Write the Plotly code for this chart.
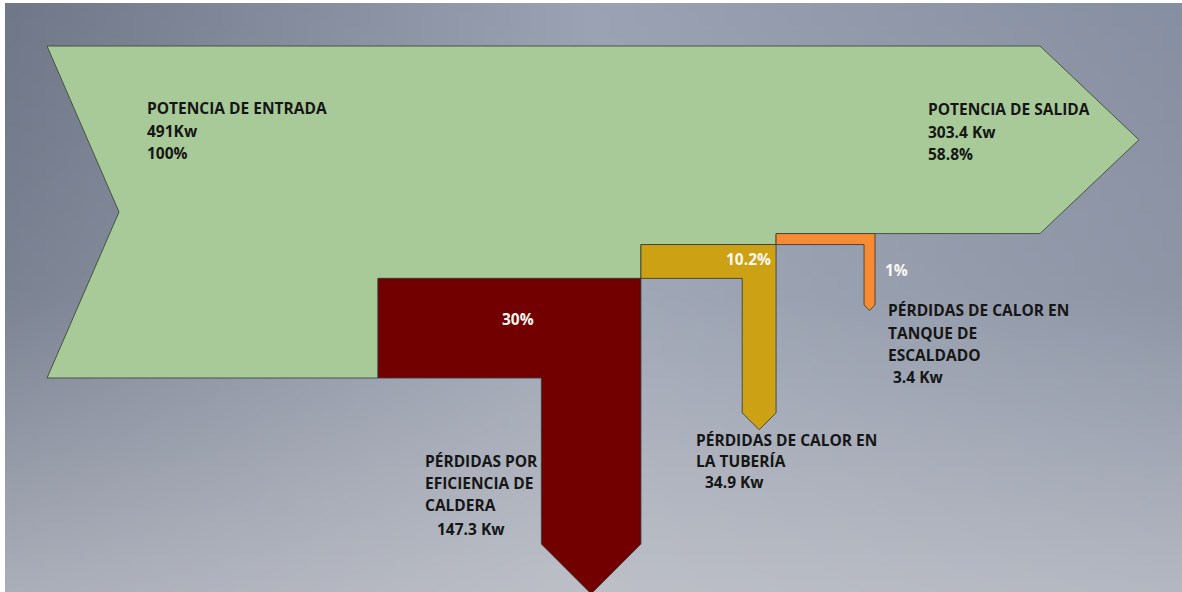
import base64, struct, zlib
import plotly.graph_objects as go

# ---------------- data ----------------
input_label = "POTENCIA DE ENTRADA"
input_kw = 491
input_pct = 100
output_label = "POTENCIA DE SALIDA"
output_kw = 303.4
output_pct = 58.8
loss_names = [
    ["PÉRDIDAS POR", "EFICIENCIA DE", "CALDERA"],
    ["PÉRDIDAS DE CALOR EN", "LA TUBERÍA"],
    ["PÉRDIDAS DE CALOR EN", "TANQUE DE", "ESCALDADO"],
]
loss_kw = [147.3, 34.9, 3.4]
loss_pct = [30, 10.2, 1]

# ---------------- style / layout ----------------
W, H = 1182, 592
S = 3.32            # pixels per percent unit (same on both axes)
X0PX, Y0PX = 47, 378
MIN_W = 3.3         # minimum drawn band width
GREEN = "#a8ca98"
loss_colors = ["#720000", "#cca113", "#f68b33"]
EDGE = "rgba(55,60,55,0.85)"
TXT = "#161616"
FONT = "Open Sans"
FS = 15.5

# schematic positions (data units)
branch_start = [99.7, 178.9, 219.6]
leg_right = [178.9, 219.6, 249.4]
leg_bottom = [-50.0, -10.5, 22.0]
out_end = 299.1
out_tip = 29.8
notch = 21.7


def X(px):
    return (px - X0PX) / S


def Y(py):
    return (Y0PX - py) / S


fig = go.Figure()

# stacked band widths
widths = [max(p, MIN_W) for p in loss_pct]
y0s = []
acc = 0.0
for w in widths:
    y0s.append(acc)
    acc += w
out_bottom = acc
top = input_pct

# main (green) band
gx = [0, out_end, out_end + out_tip, out_end]
gy = [top, top, (top + out_bottom) / 2, out_bottom]
for i in reversed(range(len(widths))):
    gx += [branch_start[i], branch_start[i]]
    gy += [y0s[i] + widths[i], y0s[i]]
gx += [0, notch, 0]
gy += [0, top / 2, top]
fig.add_trace(go.Scatter(x=gx, y=gy, mode="lines", fill="toself", fillcolor=GREEN,
                         line=dict(color="rgba(60,75,55,0.9)", width=1), hoverinfo="skip",
                         showlegend=False))

# loss branches
for i, w in enumerate(widths):
    y0, y1 = y0s[i], y0s[i] + w
    r, b = leg_right[i], leg_bottom[i]
    px_ = [branch_start[i], r, r, r - w / 2, r - w, r - w, branch_start[i], branch_start[i]]
    py_ = [y1, y1, b, b - w / 2, b, y0, y0, y1]
    fig.add_trace(go.Scatter(x=px_, y=py_, mode="lines", fill="toself",
                             fillcolor=loss_colors[i],
                             line=dict(color=EDGE, width=1), hoverinfo="skip",
                             showlegend=False))

# ---------------- text ----------------
def lines(xpx, ypxs, texts, color=TXT, anchor="left", size=FS):
    for yp, t in zip(ypxs, texts):
        fig.add_annotation(x=X(xpx), y=Y(yp), text="<b>%s</b>" % t, showarrow=False,
                           xanchor=anchor, yanchor="middle",
                           font=dict(family=FONT, size=size, color=color))

lines(145, [108, 131, 153], [input_label, f"{input_kw:g}Kw", f"{input_pct:g}%"])
lines(926, [109, 132, 154], [output_label, f"{output_kw:g} Kw", f"{output_pct:g}%"])

pct_pos = [(518, 319), (748, 259), (896, 270)]
for (xp, yp), p in zip(pct_pos, loss_pct):
    lines(xp, [yp], [f"{p:g}%"], color="#fbf8f2", anchor="center")

name_pos = [(423, [461, 483, 505]), (694, [440, 461]), (886, [310, 333, 355])]
kw_pos = [(435, 529), (703, 482), (891, 377)]
for i in range(3):
    xp, ys = name_pos[i]
    lines(xp, ys, loss_names[i])
    lines(kw_pos[i][0], [kw_pos[i][1]], [f"{loss_kw[i]:g} Kw"])

# ---------------- background gradient image ----------------
grid = [
    [(110, 118, 135), (154, 162, 179), (134, 142, 161)],
    [(123, 130, 146), (161, 168, 183), (142, 150, 166)],
    [(170, 174, 185), (189, 192, 199), (180, 184, 194)],
]
IW, IH = 96, 48
rows = []
for j in range(IH):
    v = j / (IH - 1) * 2
    rj = min(int(v), 1)
    fv = v - rj
    row = bytearray()
    for i in range(IW):
        u = i / (IW - 1) * 2
        ci = min(int(u), 1)
        fu = u - ci
        for k in range(3):
            a = grid[rj][ci][k] * (1 - fu) + grid[rj][ci + 1][k] * fu
            bb = grid[rj + 1][ci][k] * (1 - fu) + grid[rj + 1][ci + 1][k] * fu
            row.append(int(round(a * (1 - fv) + bb * fv)))
    rows.append(row)
raw = b"".join(b"\x00" + bytes(r) for r in rows)


def chunk(tag, data):
    c = struct.pack(">I", len(data)) + tag + data
    return c + struct.pack(">I", zlib.crc32(tag + data) & 0xffffffff)


png = b"\x89PNG\r\n\x1a\n" + chunk(b"IHDR", struct.pack(">IIBBBBB", IW, IH, 8, 2, 0, 0, 0)) \
    + chunk(b"IDAT", zlib.compress(raw, 9)) + chunk(b"IEND", b"")
src = "data:image/png;base64," + base64.b64encode(png).decode()

fig.add_layout_image(dict(source=src, xref="paper", yref="paper", x=-0.01, y=1.01,
                          sizex=1.02, sizey=1.02, xanchor="left", yanchor="top",
                          sizing="stretch", layer="below"))

# thin white frame strips on the left and top edges
fig.add_shape(type="rect", xref="paper", yref="paper", x0=-0.01, x1=5 / W, y0=-0.01, y1=1.01,
              fillcolor="white", line_width=0, layer="above")
fig.add_shape(type="rect", xref="paper", yref="paper", x0=-0.01, x1=1.01, y0=1 - 3 / H, y1=1.01,
              fillcolor="white", line_width=0, layer="above")

fig.update_layout(
    width=W, height=H, margin=dict(l=0, r=0, t=0, b=0),
    paper_bgcolor="#8a92a5", plot_bgcolor="rgba(0,0,0,0)",
    xaxis=dict(range=[X(0), X(W)], visible=False, fixedrange=True),
    yaxis=dict(range=[Y(H), Y(0)], visible=False, fixedrange=True),
    showlegend=False,
)

fig.write_html("out.html")
